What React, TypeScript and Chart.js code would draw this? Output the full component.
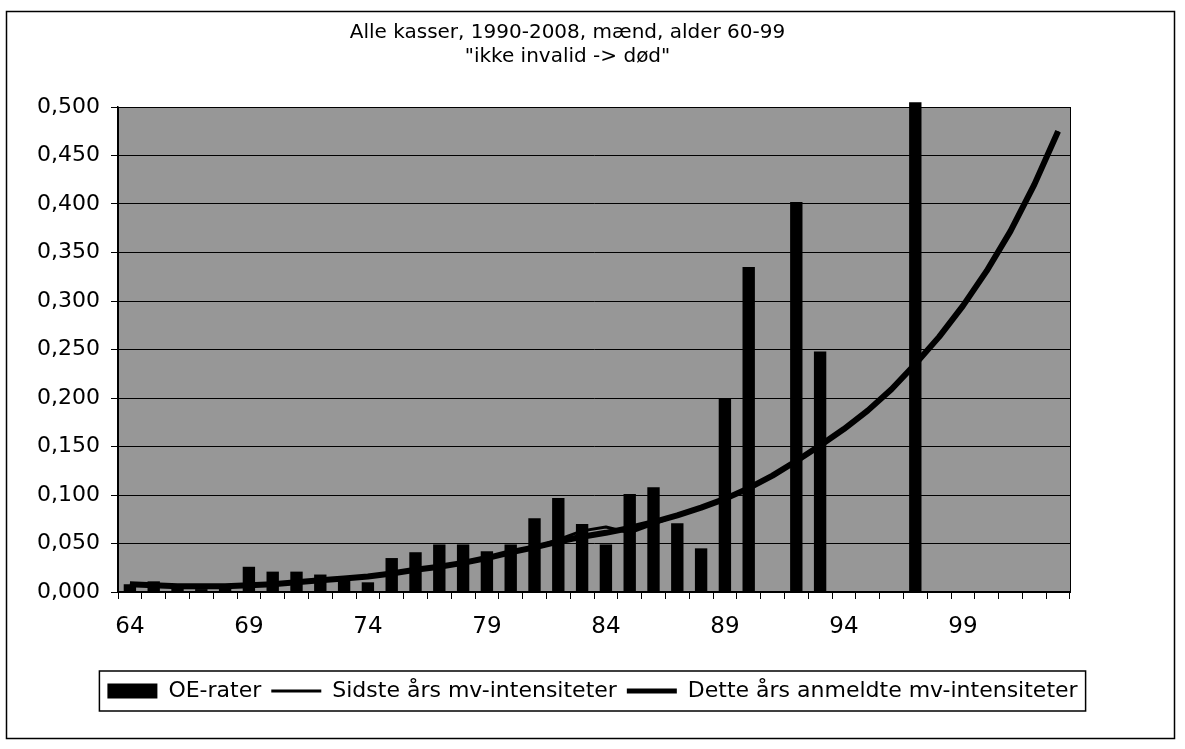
import React, { useEffect, useRef } from 'react';
import { Chart, registerables } from 'chart.js';

Chart.register(...registerables);

const titleLines = ['Alle kasser, 1990-2008, mænd, alder 60-99', '"ikke invalid -> død"'];

const ages = [
  '64', '65', '66', '67', '68', '69', '70', '71', '72', '73',
  '74', '75', '76', '77', '78', '79', '80', '81', '82', '83',
  '84', '85', '86', '87', '88', '89', '90', '91', '92', '93',
  '94', '95', '96', '97', '98', '99', '100', '101', '102', '103',
];

const oeRater = [
  0.008, 0.011, 0.004, 0.003, 0.004, 0.026, 0.021, 0.021, 0.018, 0.013,
  0.010, 0.035, 0.041, 0.049, 0.049, 0.042, 0.049, 0.076, 0.097, 0.070,
  0.049, 0.101, 0.108, 0.071, 0.045, 0.200, 0.335, 0, 0.402, 0.248,
  0, 0, 0, 0.505, 0, 0, 0, 0, 0, 0,
];

const sidsteAars = [
  0.008, 0.007, 0.006, 0.006, 0.006, 0.007, 0.008, 0.010, 0.012, 0.014,
  0.016, 0.019, 0.023, 0.026, 0.030, 0.035, 0.041, 0.046, 0.054, 0.063,
  0.067, 0.061, 0.070, 0.079, 0.087, 0.096, 0.107, 0.120, 0.135, 0.151,
  0.168, 0.187, 0.209, 0.235, 0.263, 0.295, 0.331, 0.372, 0.420, 0.475,
];

const detteAars = [
  0.008, 0.007, 0.006, 0.006, 0.006, 0.007, 0.008, 0.010, 0.012, 0.014,
  0.016, 0.019, 0.023, 0.026, 0.030, 0.035, 0.041, 0.046, 0.052, 0.057,
  0.061, 0.066, 0.072, 0.079, 0.087, 0.096, 0.107, 0.120, 0.135, 0.151,
  0.168, 0.187, 0.209, 0.235, 0.263, 0.295, 0.331, 0.372, 0.420, 0.475,
];

const seriesNames = ['OE-rater', 'Sidste års mv-intensiteter', 'Dette års anmeldte mv-intensiteter'];

const FONT = 'DejaVu Sans';

export default function App() {
  const ref = useRef<HTMLCanvasElement>(null);

  useEffect(() => {
    const canvas = ref.current;
    if (!canvas) return;

    const framePlugin = {
      id: 'frame',
      beforeDraw(chart: any) {
        const { ctx, chartArea: a } = chart;
        ctx.save();
        ctx.fillStyle = '#ffffff';
        ctx.fillRect(0, 0, chart.width, chart.height);
        ctx.strokeStyle = '#000';
        ctx.lineWidth = 1.5;
        ctx.strokeRect(6.5, 11.5, 1168, 727);
        ctx.fillStyle = '#979797';
        ctx.fillRect(a.left, a.top, a.right - a.left, a.bottom - a.top);
        ctx.restore();
      },
      beforeDatasetsDraw(chart: any) {
        const { ctx, chartArea: a } = chart;
        ctx.save();
        ctx.strokeStyle = '#000';
        ctx.lineWidth = 1;
        ctx.strokeRect(a.left + 0.5, a.top + 0.5, a.right - a.left, a.bottom - a.top);
        ctx.restore();
      },
      afterLayout(chart: any) {
        const t = chart.titleBlock;
        if (t) {
          t.left -= 25;
          t.right -= 25;
        }
      },
      afterDraw(chart: any) {
        const lg = chart.legend;
        if (!lg || !lg.legendHitBoxes || !lg.legendHitBoxes.length) return;
        const hb = lg.legendHitBoxes;
        const last = hb[hb.length - 1];
        const left = hb[0].left - 8;
        const right = last.left + last.width + 8;
        const top = lg.top + 1;
        const bottom = lg.bottom - 1;
        const ctx = chart.ctx;
        ctx.save();
        ctx.strokeStyle = '#000';
        ctx.lineWidth = 1.5;
        ctx.strokeRect(left, top, right - left, bottom - top);
        ctx.restore();
      },
    };

    const chart = new Chart(canvas, {
      type: 'bar',
      data: {
        labels: ages,
        datasets: [
          {
            type: 'bar',
            label: seriesNames[0],
            data: oeRater,
            backgroundColor: '#000000',
            borderWidth: 0,
            barPercentage: 0.52,
            categoryPercentage: 1,
            clip: false as any,
          },
          {
            type: 'line',
            label: seriesNames[1],
            data: sidsteAars,
            borderColor: '#000000',
            backgroundColor: '#000000',
            borderWidth: 3,
            pointRadius: 0,
            tension: 0,
            borderJoinStyle: 'round',
          },
          {
            type: 'line',
            label: seriesNames[2],
            data: detteAars,
            borderColor: '#000000',
            backgroundColor: '#000000',
            borderWidth: 6,
            pointRadius: 0,
            tension: 0,
            borderJoinStyle: 'round',
          },
        ] as any,
      },
      options: {
        responsive: false,
        animation: false,
        devicePixelRatio: 1,
        layout: { padding: { top: 21, right: 0, bottom: 37, left: 0 } },
        scales: {
          x: {
            offset: true,
            grid: {
              display: true,
              drawOnChartArea: false,
              drawTicks: true,
              tickLength: 7,
              color: '#000',
              tickColor: '#000',
              offset: true,
            },
            border: { display: true, color: '#000', width: 1.5 },
            ticks: {
              autoSkip: false,
              maxRotation: 0,
              minRotation: 0,
              padding: 14,
              color: '#000',
              font: { family: FONT, size: 23 },
              callback: (_v: any, i: number) => (i % 5 === 0 ? ages[i] : ''),
            },
            afterFit: (s: any) => {
              s.height = 78;
            },
          },
          y: {
            position: 'left',
            min: 0,
            max: 0.5,
            grid: {
              color: '#000',
              lineWidth: 1,
              drawTicks: true,
              tickLength: 7,
              tickColor: '#000',
            },
            border: { display: true, color: '#000', width: 1.5 },
            ticks: {
              stepSize: 0.05,
              padding: 11,
              color: '#000',
              font: { family: FONT, size: 22 },
              callback: (v: any) => Number(v).toFixed(3).replace('.', ','),
            },
            afterFit: (s: any) => {
              s.width = 118;
            },
          },
          y2: {
            position: 'right',
            display: true,
            grid: { display: false, drawTicks: false },
            border: { display: false },
            ticks: { display: false },
            afterFit: (s: any) => {
              s.width = 115;
            },
          },
        },
        plugins: {
          title: {
            display: true,
            text: titleLines,
            color: '#000',
            font: { family: FONT, size: 20, weight: 'normal', lineHeight: 1.2 },
            padding: { top: 0, bottom: 38 },
          },
          legend: {
            display: true,
            position: 'bottom',
            labels: {
              color: '#000',
              font: { family: FONT, size: 22 },
              usePointStyle: true,
              pointStyleWidth: 50,
              boxHeight: 15,
              padding: 10,
              generateLabels: (ch: any) => {
                const items = Chart.defaults.plugins.legend.labels.generateLabels(ch);
                items.forEach((it: any, i: number) => {
                  if (i === 0) {
                    it.pointStyle = 'rect';
                    it.fillStyle = '#000';
                    it.strokeStyle = '#000';
                    it.lineWidth = 0;
                  } else {
                    it.pointStyle = 'line';
                    it.strokeStyle = '#000';
                    it.lineWidth = i === 1 ? 3 : 5;
                  }
                });
                return items;
              },
            },
          },
          tooltip: { enabled: false },
        },
      } as any,
      plugins: [framePlugin],
    });

    return () => chart.destroy();
  }, []);

  return (
    <div style={{ position: 'fixed', left: 0, top: 0, width: 1185, height: 749, background: '#fff' }}>
      <canvas ref={ref} width={1185} height={749} style={{ display: 'block', width: 1185, height: 749 }} />
    </div>
  );
}
